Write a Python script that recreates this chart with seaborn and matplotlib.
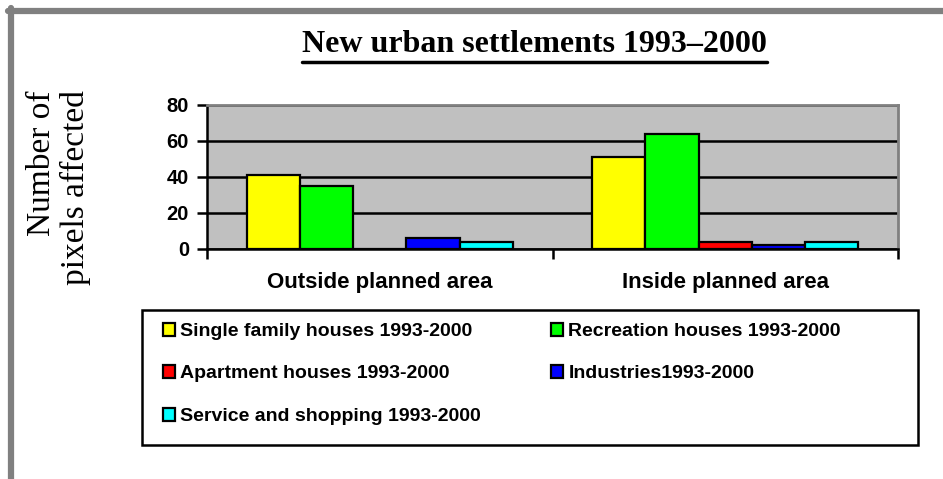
import pandas as pd
import matplotlib.pyplot as plt
from matplotlib.lines import Line2D
from matplotlib.patches import Rectangle
import seaborn as sns

# data
areas = ["Outside planned area", "Inside planned area"]
types = ["Single family houses 1993-2000", "Recreation houses 1993-2000",
         "Apartment houses 1993-2000", "Industries1993-2000",
         "Service and shopping 1993-2000"]
outside_vals = [41, 35, 0, 6, 4]
inside_vals = [51, 64, 4, 2, 4]
colors = ["#ffff00", "#00ff00", "#ff0000", "#0000ff", "#00ffff"]

rows = []
for t, o, i in zip(types, outside_vals, inside_vals):
    rows.append({"area": areas[0], "type": t, "pixels": o})
    rows.append({"area": areas[1], "type": t, "pixels": i})
df = pd.DataFrame(rows)

sns.set_style("white")
plt.rcParams["font.family"] = ["Liberation Sans", "DejaVu Sans"]
plt.rcParams["text.color"] = "black"
plt.rcParams["xtick.color"] = "black"
plt.rcParams["ytick.color"] = "black"

fig = plt.figure(figsize=(9.43, 4.79), dpi=100)
ax = fig.add_axes([207 / 943, 1 - 248.7 / 479, 691 / 943, 143.7 / 479])

sns.barplot(data=df, x="area", y="pixels", hue="type", hue_order=types,
            palette=colors, width=0.77, saturation=1, edgecolor="black",
            linewidth=1.6, ax=ax, zorder=3)

ax.set_facecolor("#c0c0c0")
ax.set_ylim(0, 80)
ax.set_xlim(-0.5, 1.5)
ax.set_yticks([0, 20, 40, 60, 80])
ax.yaxis.grid(True, color="black", linewidth=1.8, zorder=1)
ax.set_axisbelow(True)
ax.set_xlabel("")
ax.set_ylabel("")

# category boundaries as x ticks, labels in the middle
ax.set_xticks([-0.5, 0.5, 1.5])
ax.set_xticklabels([])
ax.set_xticks([0, 1], minor=True)
ax.set_xticklabels(areas, minor=True, fontsize=16, fontweight="bold")
ax.tick_params(axis="x", which="major", direction="out", length=7, width=1.8,
               color="black", bottom=True)
ax.tick_params(axis="x", which="minor", length=0, pad=17)
ax.tick_params(axis="y", direction="out", length=7, width=1.8, color="black",
               left=True, labelsize=14.5, pad=6)
for lab in ax.get_yticklabels():
    lab.set_fontweight("bold")

for side in ["left", "bottom"]:
    ax.spines[side].set_color("black")
    ax.spines[side].set_linewidth(1.8)
for side in ["top", "right"]:
    ax.spines[side].set_visible(True)
    ax.spines[side].set_color("#808080")
    ax.spines[side].set_linewidth(2)

# legend, filled row by row like the original, box drawn separately
ax.get_legend().remove()
handles, labels = ax.get_legend_handles_labels()
order = [0, 2, 4, 1, 3]
leg = fig.legend([handles[k] for k in order], [labels[k] for k in order],
                 loc="upper left", ncol=2, frameon=False,
                 bbox_to_anchor=(147 / 943, 1 - 307 / 479), borderaxespad=0,
                 prop={"weight": "bold", "size": 14},
                 handlelength=0.65, handleheight=0.65, handletextpad=0.25,
                 labelspacing=1.3, borderpad=0.8, columnspacing=3.6)
for h in leg.legend_handles:
    h.set_edgecolor("black")
    h.set_linewidth(1.6)
fig.add_artist(Rectangle((142 / 943, 1 - 445 / 479), 776 / 943, 135 / 479,
                         transform=fig.transFigure, fill=False,
                         edgecolor="black", linewidth=1.8))

# title and y label
title = fig.text(0.567, 1 - 45 / 479, "New urban settlements 1993\u20132000",
                 ha="center", va="center", fontsize=23, fontweight="bold",
                 family="Liberation Serif")
fig.text(0.0626, 1 - 188 / 479, "Number of\npixels affected", rotation=90,
         ha="center", va="center", multialignment="right", fontsize=24,
         family="Liberation Serif", linespacing=1.12)

# underline for the title
fig.canvas.draw()
bb = title.get_window_extent()
fig.add_artist(Line2D([bb.x0 / 943, bb.x1 / 943],
                      [(bb.y0 - 2) / 479, (bb.y0 - 2) / 479],
                      color="black", linewidth=2.5))

# grey frame at top and left of the page
fig.add_artist(Line2D([8 / 943, 1], [1 - 11 / 479, 1 - 11 / 479],
                      color="#808080", linewidth=4.5))
fig.add_artist(Line2D([11 / 943, 11 / 943], [0, 1 - 8 / 479],
                      color="#808080", linewidth=4.5))

fig.savefig("out.png", dpi=100)
